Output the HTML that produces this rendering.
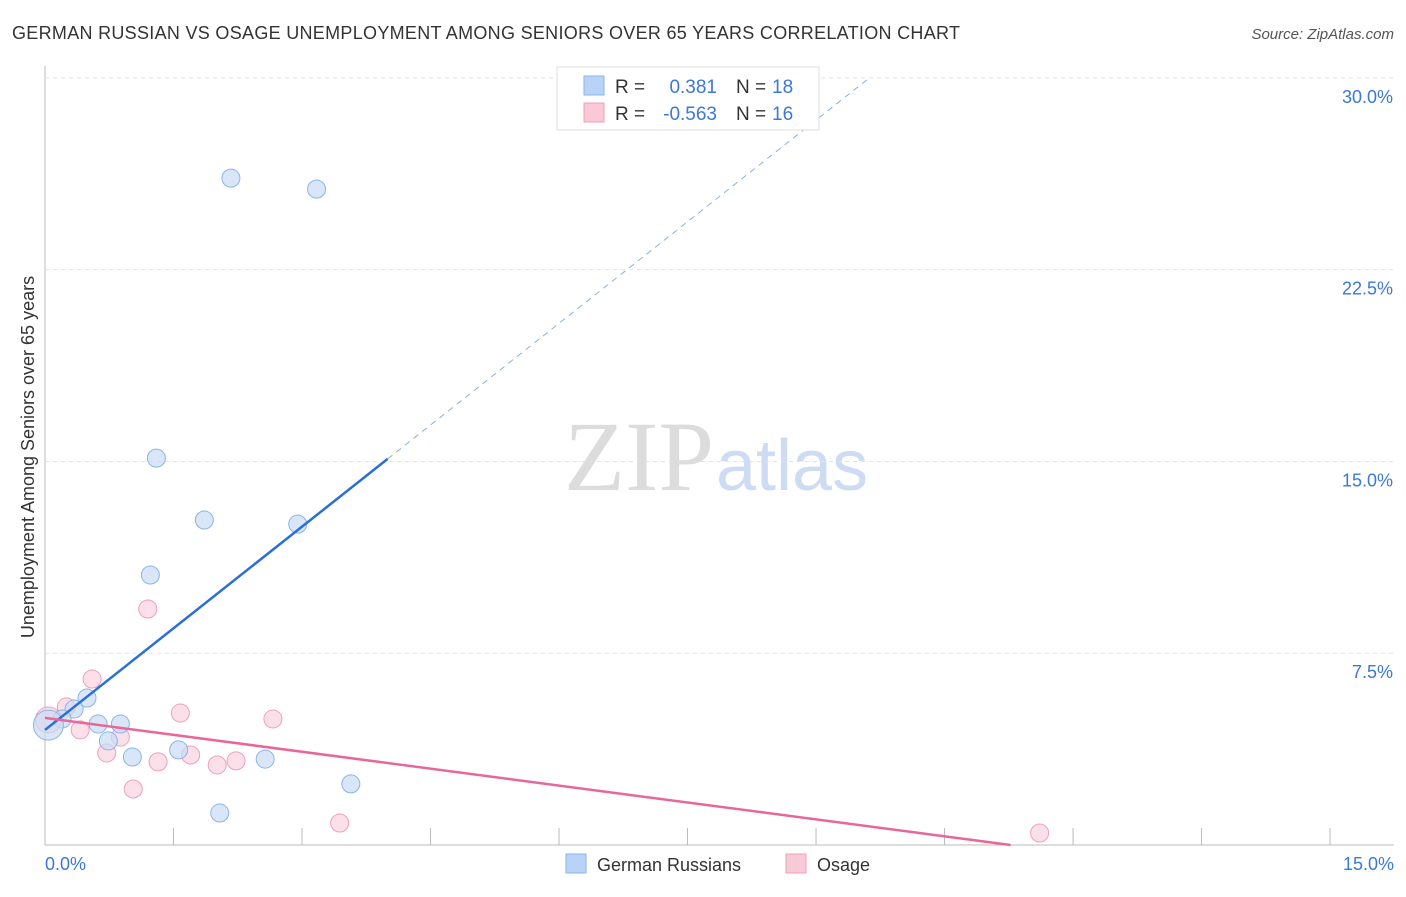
<!DOCTYPE html>
<html><head><meta charset="utf-8">
<style>
body{margin:0;background:#fff;font-family:"Liberation Sans",sans-serif;}
</style></head>
<body>
<svg width="1406" height="892" viewBox="0 0 1406 892" style="font-family:'Liberation Sans',sans-serif">
<text x="12" y="39" font-size="18" fill="#333" textLength="948">GERMAN RUSSIAN VS OSAGE UNEMPLOYMENT AMONG SENIORS OVER 65 YEARS CORRELATION CHART</text>
<text x="1394" y="39" font-size="15" fill="#555" text-anchor="end" font-style="italic">Source: ZipAtlas.com</text>
<text x="714" y="490" font-size="100" fill="#dcdcdc" text-anchor="end" style="font-family:'Liberation Serif',serif">ZIP</text>
<text x="716" y="490" font-size="72" fill="#cddcf2">atlas</text>
<g id="grid"></g>
<g id="marks"></g>
<text transform="translate(34,457) rotate(-90)" font-size="18" fill="#333" text-anchor="middle">Unemployment Among Seniors over 65 years</text>
<text x="45" y="870" font-size="18" fill="#3b78d8">0.0%</text>
<text x="1394" y="870" font-size="18" fill="#3b78d8" text-anchor="end">15.0%</text>
<g>
<rect x="557" y="67" width="262" height="63" fill="#fff" stroke="#ddd"/>
<rect x="584" y="76" width="20" height="19" fill="#b8d3f5" stroke="#8ab4ea"/>
<text x="615" y="93" font-size="19" fill="#333">R =</text>
<text x="717" y="93" font-size="19" fill="#3b78d8" text-anchor="end">0.381</text>
<text x="736" y="93" font-size="19" fill="#333">N =</text>
<text x="772" y="93" font-size="19" fill="#3b78d8">18</text>
<rect x="584" y="103" width="20" height="19" fill="#f9c9d7" stroke="#f0a0b8"/>
<text x="615" y="120" font-size="19" fill="#333">R =</text>
<text x="717" y="120" font-size="19" fill="#3b78d8" text-anchor="end">-0.563</text>
<text x="736" y="120" font-size="19" fill="#333">N =</text>
<text x="772" y="120" font-size="19" fill="#3b78d8">16</text>
</g>
<g>
<rect x="566" y="854" width="20" height="19" fill="#b8d3f5" stroke="#8ab4ea"/>
<text x="597" y="871" font-size="18" fill="#333">German Russians</text>
<rect x="786" y="854" width="20" height="19" fill="#f9c9d7" stroke="#f0a0b8"/>
<text x="817" y="871" font-size="18" fill="#333">Osage</text>
</g>
</svg>
<script>
const yTicks=[7.5,15,22.5,30];
const yTickLabels=["7.5%","15.0%","22.5%","30.0%"];
const xTicks=[0,1.5,3,4.5,6,7.5,9,10.5,12,13.5,15];
const blueX=[2.17,3.17,1.30,1.86,2.95,1.23,0.49,0.34,0.20,0.62,0.88,0.74,1.56,1.02,2.57,3.57,2.04,0.04];
const blueY=[26.08,25.65,15.13,12.71,12.55,10.56,5.75,5.32,4.93,4.73,4.73,4.07,3.72,3.44,3.36,2.39,1.25,4.69];
const blueR=[9,9,9,9,9,9,9,9,9,9,9,9,9,9,9,9,9,15];
const pinkX=[1.20,0.55,1.58,2.66,0.25,0.41,0.88,0.72,1.70,1.32,2.23,2.01,1.03,3.44,11.61,0.04];
const pinkY=[9.23,6.49,5.16,4.93,5.40,4.50,4.22,3.60,3.52,3.25,3.29,3.13,2.19,0.86,0.47,4.89];
const pinkR=[9,9,9,9,9,9,9,9,9,9,9,9,9,9,9,13];
const blueTrend=[4.5,2.65];
const pinkTrend=[4.97,-0.441];
const NS="http://www.w3.org/2000/svg";
const X=v=>45+v*85.67, Y=v=>845-v*25.57;
function mk(t,a,p){const e=document.createElementNS(NS,t);for(const k in a)e.setAttribute(k,a[k]);p.appendChild(e);return e;}
const g=document.getElementById('grid'), m=document.getElementById('marks');
mk('line',{x1:45,y1:Y(30)-12,x2:45,y2:845,stroke:'#bbb'},g);
mk('line',{x1:45,y1:845,x2:1394,y2:845,stroke:'#bbb'},g);
yTicks.forEach((t,i)=>{
 const l=mk('line',{x1:45,y1:Y(t),x2:1394,y2:Y(t),stroke:'#e2e2e2','stroke-dasharray':'4,4'},g);
 
 
 const tx=mk('text',{x:1393,y:Y(t)+25,'font-size':18,fill:'#3b78d8','text-anchor':'end'},g);
 tx.textContent=yTickLabels[i];
 
 
});
xTicks.forEach(t=>{
 const l=mk('line',{x1:X(t),y1:828,x2:X(t),y2:845,stroke:'#bbb'},g);
 
 
});
pinkX.forEach((x,i)=>{
 const c=mk('circle',{cx:X(x),cy:Y(pinkY[i]),r:pinkR[i],fill:'#fad3df','fill-opacity':0.7,stroke:'#f0a0b8'},m);
 
 
});
blueX.forEach((x,i)=>{
 const c=mk('circle',{cx:X(x),cy:Y(blueY[i]),r:blueR[i],fill:'#c9dcf5','fill-opacity':0.7,stroke:'#8ab4ea'},m);
 
 
});
const bEnd=4.0, bDash=9.6;
let l1=mk('line',{x1:X(0),y1:Y(blueTrend[0]),x2:X(bEnd),y2:Y(blueTrend[0]+blueTrend[1]*bEnd),stroke:'#2a6fd6','stroke-width':2.5},m);


let l2=mk('line',{x1:X(bEnd),y1:Y(blueTrend[0]+blueTrend[1]*bEnd),x2:X(bDash),y2:Y(blueTrend[0]+blueTrend[1]*bDash),stroke:'#8ab0e0','stroke-width':1,'stroke-dasharray':'6,5'},m);


const pEnd=-pinkTrend[0]/pinkTrend[1];
let l3=mk('line',{x1:X(0),y1:Y(pinkTrend[0]),x2:X(pEnd),y2:Y(0),stroke:'#e8679a','stroke-width':2.5},m);


</script>
</body></html>
